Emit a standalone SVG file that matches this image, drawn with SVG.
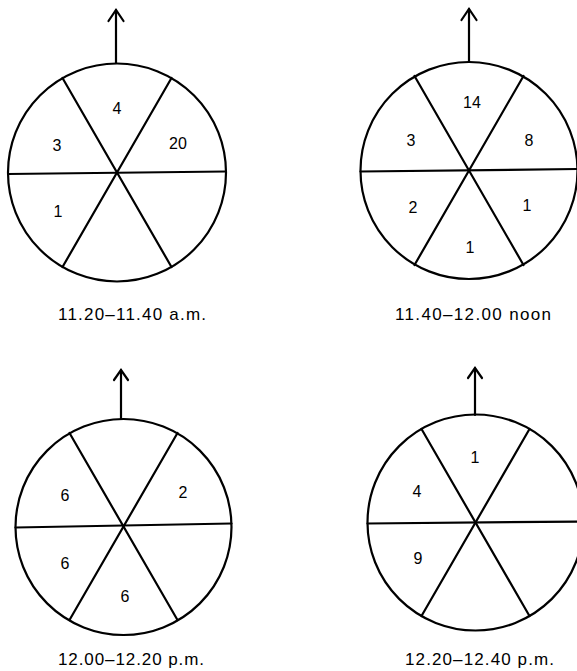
<svg xmlns="http://www.w3.org/2000/svg" width="577" height="671" viewBox="0 0 577 671">
<style>
.c{fill:none;stroke:#000;stroke-width:2.2}
.s{stroke:#000;stroke-width:2.2;fill:none;stroke-linecap:round}
.a{stroke:#000;stroke-width:2.2;fill:none;stroke-linecap:round;stroke-linejoin:miter}
.n{font-family:"Liberation Sans",Arial,sans-serif;font-size:16px;fill:#000;text-anchor:middle}
.cap{font-family:"Liberation Sans",Arial,sans-serif;font-size:17px;fill:#000}
</style>
<rect width="577" height="671" fill="#fff"/>
<g id="dial1">
<circle class="c" cx="117" cy="172.5" r="109"/>
<line class="s" x1="8" y1="174" x2="226" y2="171.5"/>
<line class="s" x1="62.5" y1="78" x2="171.5" y2="267"/>
<line class="s" x1="171.5" y1="78" x2="62.5" y2="267"/>
<line class="s" x1="116" y1="63" x2="116" y2="10"/>
<polyline class="a" points="108.5,21 116,10 123.5,21"/>
<text class="n" x="117" y="114">4</text>
<text class="n" x="57" y="151">3</text>
<text class="n" x="178" y="149">20</text>
<text class="n" x="58" y="217">1</text>
<text class="cap" x="58" y="320" textLength="148" lengthAdjust="spacing">11.20–11.40 a.m.</text>
</g>
<g id="dial2">
<circle class="c" cx="469" cy="170.5" r="108.5"/>
<line class="s" x1="360.5" y1="171.5" x2="577.5" y2="169"/>
<line class="s" x1="414.5" y1="76" x2="523.5" y2="265"/>
<line class="s" x1="523.5" y1="76" x2="414.5" y2="265"/>
<line class="s" x1="469" y1="62" x2="469" y2="9"/>
<polyline class="a" points="461.5,20 469,9 476.5,20"/>
<text class="n" x="472" y="108">14</text>
<text class="n" x="411" y="146">3</text>
<text class="n" x="529" y="146">8</text>
<text class="n" x="413" y="213">2</text>
<text class="n" x="527" y="211">1</text>
<text class="n" x="470" y="253">1</text>
<text class="cap" x="395" y="320" textLength="156" lengthAdjust="spacing">11.40–12.00 noon</text>
</g>
<g id="dial3">
<circle class="c" cx="123.5" cy="527" r="108"/>
<line class="s" x1="15.5" y1="527.5" x2="231.5" y2="523.5"/>
<line class="s" x1="69.5" y1="433" x2="177.5" y2="620"/>
<line class="s" x1="177.5" y1="433" x2="69.5" y2="620"/>
<line class="s" x1="121" y1="419" x2="121" y2="370"/>
<polyline class="a" points="114,380 121,370 128,380"/>
<text class="n" x="65" y="501">6</text>
<text class="n" x="183" y="498">2</text>
<text class="n" x="65" y="569">6</text>
<text class="n" x="125" y="602">6</text>
<text class="cap" x="58" y="665" textLength="146" lengthAdjust="spacing">12.00–12.20 p.m.</text>
</g>
<g id="dial4">
<circle class="c" cx="475.5" cy="522.5" r="108"/>
<line class="s" x1="367.5" y1="523.5" x2="583.5" y2="521.5"/>
<line class="s" x1="421.5" y1="429" x2="529.5" y2="616"/>
<line class="s" x1="529.5" y1="429" x2="421.5" y2="616"/>
<line class="s" x1="475" y1="415" x2="475" y2="368"/>
<polyline class="a" points="468,378 475,368 482,378"/>
<text class="n" x="475" y="463">1</text>
<text class="n" x="417" y="497">4</text>
<text class="n" x="418" y="564">9</text>
<text class="cap" x="405" y="665" textLength="149" lengthAdjust="spacing">12.20–12.40 p.m.</text>
</g>
</svg>
